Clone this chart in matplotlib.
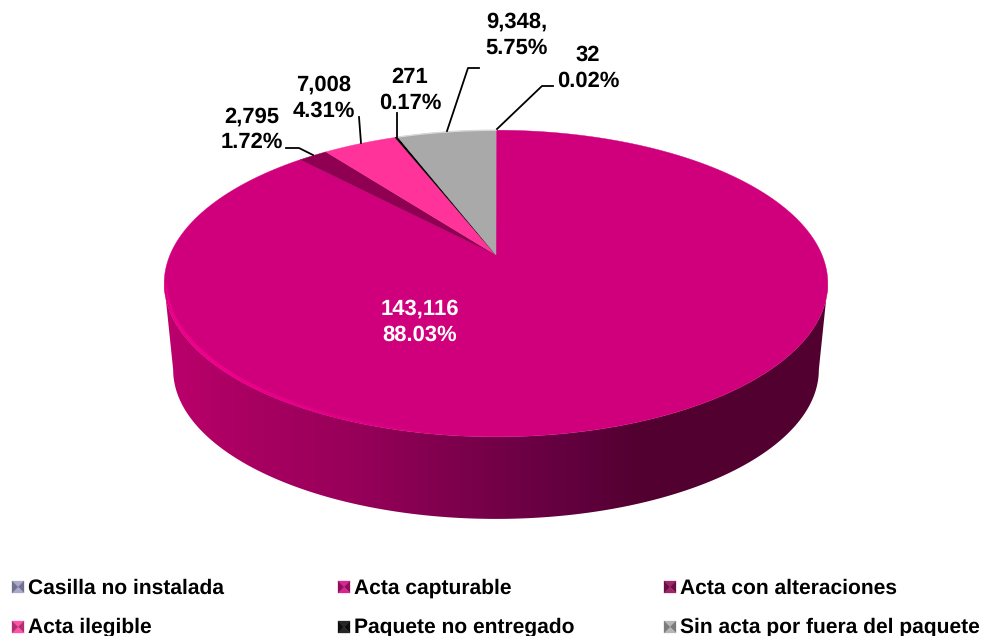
import numpy as np
import matplotlib
matplotlib.use("Agg")
import matplotlib.pyplot as plt
from matplotlib.collections import LineCollection
from matplotlib.colors import LinearSegmentedColormap, to_rgb
from matplotlib.patches import Polygon

plt.rcParams['font.family'] = ['Liberation Sans', 'DejaVu Sans']
plt.rcParams['text.hinting'] = 'no_hinting'
plt.rcParams['text.hinting_factor'] = 1

categories = ["Casilla no instalada", "Acta capturable", "Acta con alteraciones",
              "Acta ilegible", "Paquete no entregado", "Sin acta por fuera del paquete"]
values = [32, 143116, 2795, 7008, 271, 9348]
percents = ["0.02%", "88.03%", "1.72%", "4.31%", "0.17%", "5.75%"]
counts = ["32", "143,116", "2,795", "7,008", "271", "9,348,"]
colors = ["#9a9ac4", "#d0007c", "#8f0052", "#ff3399", "#000000", "#a9a9a9"]


# pie sits on a tilted disc, so project the unit circle with a bit of perspective
def project(theta, r=1.0):
    u = r * np.sin(theta)
    v = r * np.cos(theta)
    d = 1 + 0.186 * v
    return 496 + 326 * u / d, 255 - 148 * v / d


fig = plt.figure(figsize=(9.85, 6.36), dpi=100)
ax = fig.add_axes([0, 0, 1, 1])

# side wall, bottom rim is a bit narrower than the top one
edge = np.arccos(-0.186)
front = np.linspace(edge, 2 * np.pi - edge, 400)
fx, fy = project(front)
bx = 496 + 0.973 * (fx - 496)
by = 255 + 0.973 * (fy - 255) + 87
side_cmap = LinearSegmentedColormap.from_list(
    "side", [(0, "#bc006c"), (0.13, "#a80061"), (0.28, "#98005a"), (0.47, "#78004a"),
             (0.6, "#640040"), (0.72, "#520030"), (1, "#520030")])
grad = ax.imshow(np.linspace(0, 1, 256)[None, :], extent=[164, 828, 530, 250], cmap=side_cmap,
                 aspect="auto", zorder=2, vmin=0, vmax=1)
clip = Polygon(np.column_stack([np.r_[fx, bx[::-1]], np.r_[fy, by[::-1]]]), closed=True,
               transform=ax.transData, fc="none", ec="none")
ax.add_patch(clip)
grad.set_clip_path(clip)
ax.set_xlim(0, 985)
ax.set_ylim(636, 0)
ax.axis("off")

# top surface, clockwise from 12 o'clock
angles = np.cumsum([0] + values) / np.sum(values) * 2 * np.pi
for i, c in enumerate(colors):
    th = np.linspace(angles[i], angles[i + 1], max(2, int((angles[i + 1] - angles[i]) * 120)))
    x, y = project(th)
    ax.add_patch(Polygon(np.column_stack([np.r_[496, x], np.r_[255, y]]), closed=True,
                         fc=c, ec=c, lw=0.3, zorder=3))

# lighter rim on the front edge, fades out at both ends
th = np.linspace(np.pi, 2 * np.pi - edge, 200)
x, y = project(th, 0.994)
pts = np.column_stack([x, y])
segs = np.stack([pts[:-1], pts[1:]], axis=1)
frac = np.linspace(0, 1, len(segs))
base = np.array(to_rgb("#d0007c"))
bright = np.array(to_rgb("#f4008e"))
seg_colors = [base + (bright - base) * min(1, f * 1.6) for f in frac]
widths = 0.6 + 2.0 * np.sin(np.pi * frac ** 1.3) ** 0.8
ax.add_collection(LineCollection(segs, colors=seg_colors, linewidths=widths, zorder=4))
th = np.linspace(angles[5], 2 * np.pi, 40)
x, y = project(th)
ax.plot(x, y, color="#d9d9d9", lw=1, zorder=4)

# data labels
font = dict(fontsize=15.5, fontweight="bold", ha="center", va="center", linespacing=1.3)
ax.text(420, 322, counts[1] + "\n" + percents[1], color="white", zorder=6, **font)
ax.text(252, 130, counts[2] + "\n" + percents[2], color="black", zorder=6, **font)
ax.text(324, 98, counts[3] + "\n" + percents[3], color="black", zorder=6, **font)
ax.text(410, 90, counts[4] + "\n" + percents[4], color="black", zorder=6, **font)
ax.text(517, 35, counts[5] + "\n" + percents[5], color="black", zorder=6, **font)
ax.text(588, 68, counts[0] + "\n" + percents[0], color="black", zorder=6, **font)

# leader lines
leaders = [([286, 299, 313], [148, 148, 155]),
           ([359, 361], [117, 143]),
           ([397, 397], [113, 137]),
           ([479, 468, 447], [68, 68, 131]),
           ([553, 542, 497], [86, 86, 129])]
for lx_, ly_ in leaders:
    ax.plot(lx_, ly_, color="black", lw=1.3, zorder=5)

# legend, markers are small bevelled squares
legend_x = [12, 338, 664]
legend_y = [587, 627]
size = 12
for i, name in enumerate(categories):
    x0 = legend_x[i % 3]
    yc = legend_y[i // 3]
    y0 = yc - size / 2
    c = np.array(to_rgb(colors[i]))
    mid = (x0 + size / 2, yc)
    corners = [(x0, y0), (x0 + size, y0), (x0 + size, y0 + size), (x0, y0 + size)]
    shades = [c * 0.85 + 0.15, c * 0.65 + 0.05, c * 0.85 + 0.15, c * 0.65 + 0.05]
    for k in range(4):
        ax.add_patch(Polygon([corners[k], corners[(k + 1) % 4], mid], closed=True,
                             fc=shades[k], ec=shades[k], lw=0.2, zorder=5))
    ax.text(x0 + 16, yc + 1 - i // 3, name, fontsize=15.4, fontweight="bold",
            ha="left", va="center", zorder=6)

fig.savefig("out.png", dpi=100)
